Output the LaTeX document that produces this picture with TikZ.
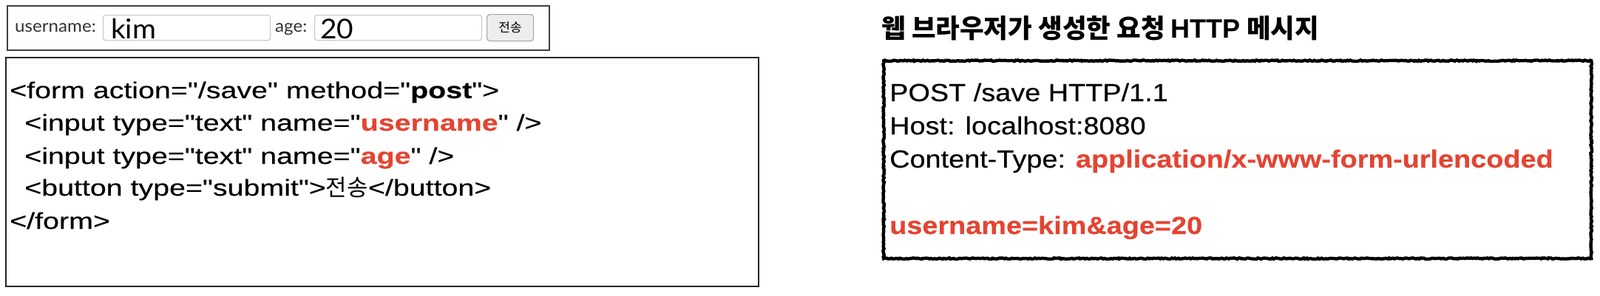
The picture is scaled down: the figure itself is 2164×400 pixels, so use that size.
\documentclass[tikz,border=0pt]{standalone}
\usepackage{fontspec}
\usetikzlibrary{decorations.pathmorphing}
\newfontfamily\codefont[FakeStretch=1.27,FakeBold=0.3]{Liberation Sans}
\newfontfamily\msgfont[FakeStretch=1.13,FakeBold=0.3]{Liberation Sans}
\newfontfamily\arialfont{Liberation Sans}
\newfontfamily\krfont{Noto Sans CJK KR}
\newfontfamily\uifont[FakeStretch=1.05]{Lato}
\definecolor{hred}{RGB}{228,68,50}
\tikzset{
  box/.style={draw, inner sep=0pt, anchor=north west},
  field/.style={box, draw=black!22, line width=1.2pt, rounded corners=3pt, fill=white},
  btn/.style={box, draw=black!35, line width=1.2pt, rounded corners=4pt, fill=black!7},
  codeline/.style={anchor=base west, inner sep=0pt, font=\codefont\fontsize{31}{36}\selectfont},
  msgline/.style={anchor=base west, inner sep=0pt, font=\msgfont\fontsize{33.5}{40}\selectfont},
  uilabel/.style={anchor=base west, inner sep=0pt, text=black!80, font=\uifont\fontsize{23}{27}\selectfont},
  uivalue/.style={anchor=base west, inner sep=0pt, font=\uifont\fontsize{37}{42}\selectfont},
  roughbox/.style={box, line width=4.4pt, decorate,
     decoration={random steps, segment length=2.2pt, amplitude=0.8pt}},
}
\begin{document}
\begin{tikzpicture}[x=1pt,y=-1pt]
\useasboundingbox (0,0) rectangle (2164,400);
% ---------- form preview ----------
\node (formbar) [box, draw=black!75, line width=2.2pt, minimum width=733pt, minimum height=60pt] at (9,7) {};
\node (ulabel) [uilabel] at (20,43) {username:};
\node (kimfield) [field, minimum width=226pt, minimum height=34pt] at (139,20) {};
\node (kim) [uivalue] at (150,52) {kim};
\node (alabel) [uilabel] at (372,43) {age:};
\node (agefield) [field, minimum width=226pt, minimum height=34pt] at (425,20) {};
\node (age) [uivalue] at (433,52) {20};
\node (sendbtn) [btn, minimum width=63pt, minimum height=36pt] at (658,19) {};
\node (sendtxt) at (sendbtn.center) {\krfont\fontsize{17}{20}\selectfont 전송};
% ---------- html code ----------
\node (codebox) [box, draw=black!85, line width=1.8pt, minimum width=1018pt, minimum height=310pt] at (7,77) {};
\node (codeA) [codeline] at (13,133) {<form action="/save" method="\textbf{post}">};
\node (codeB) [codeline] at (33,177) {<input type="text" name="\textcolor{hred}{\textbf{username}}" />};
\node (codeC) [codeline] at (33,222) {<input type="text" name="\textcolor{hred}{\textbf{age}}" />};
\node (codeD) [codeline] at (33,265) {<button type="submit">{\krfont 전송}</button>};
\node (codeE) [codeline] at (13,310) {</form>};
% ---------- http message ----------
\node (title) [anchor=base west, inner sep=0pt] at (1192,51)
  {\krfont\bfseries\fontsize{35.5}{42}\selectfont 웹 브라우저가 생성한 요청 {\arialfont\bfseries\fontsize{36}{42}\selectfont HTTP} 메시지};
\node (httpbox) [roughbox, minimum width=957pt, minimum height=268pt] at (1193,80) {};
\node (msgA) [msgline] at (1203,137) {POST /save HTTP/1.1};
\node (msgB) [msgline] at (1203,182) {Host: localhost:8080};
\node (msgC) [msgline] at (1203,227) {Content-Type: \textcolor{hred}{\textbf{application/x-www-form-urlencoded}}};
\node (msgD) [msgline] at (1203,317) {\textcolor{hred}{\textbf{username=kim\&age=20}}};
\end{tikzpicture}
\end{document}
